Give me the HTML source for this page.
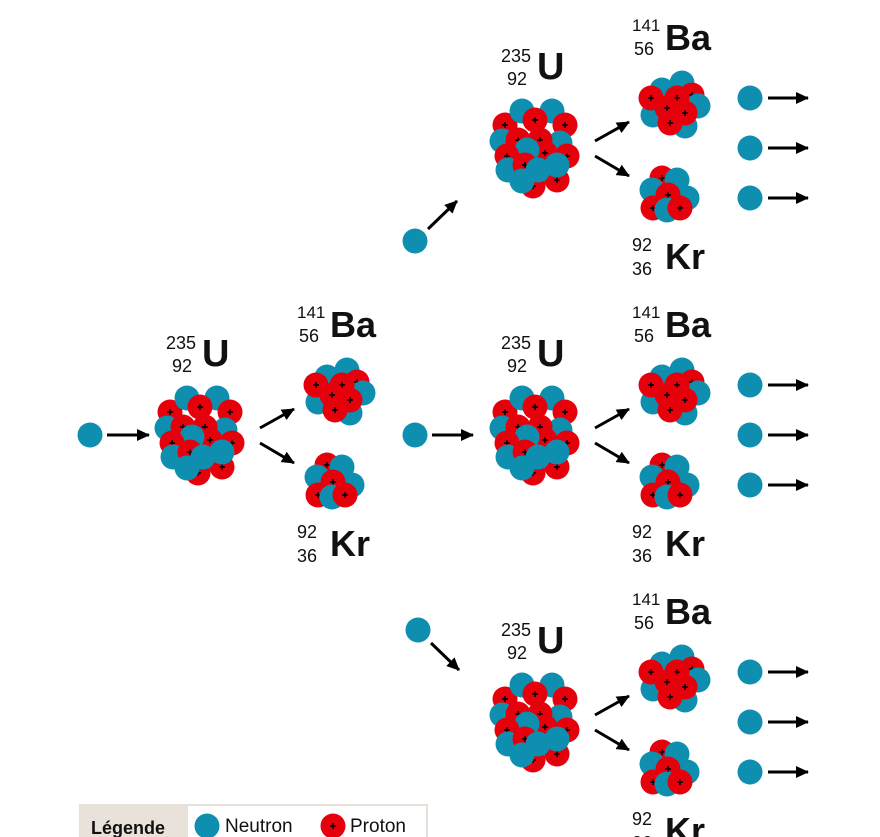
<!DOCTYPE html>
<html><head><meta charset="utf-8"><style>
html,body{margin:0;padding:0;background:#fff;}
svg{display:block;}
text{font-family:"Liberation Sans",sans-serif;fill:#111;}
</style></head><body>
<svg width="880" height="837" viewBox="0 0 880 837" xmlns="http://www.w3.org/2000/svg">
<defs>
<marker id="ah" markerWidth="13" markerHeight="12" refX="12" refY="6" orient="auto" markerUnits="userSpaceOnUse">
<path d="M0,0 L13,6 L0,12 z" fill="#000"/></marker>
<g id="n"><circle r="12.5" fill="#0f8fb0"/></g>
<g id="p"><circle r="12.5" fill="#e6000c"/><path d="M-3,0H3M0,-3V3" stroke="#000" stroke-width="1.4"/></g>
<g id="U">
<use href="#p" x="170" y="412"/><use href="#n" x="187" y="398"/><use href="#n" x="217" y="398"/>
<use href="#p" x="200" y="407"/><use href="#p" x="230" y="412"/>
<use href="#n" x="167" y="428"/><use href="#p" x="183" y="427"/><use href="#n" x="225" y="430"/><use href="#p" x="205" y="427"/>
<use href="#p" x="232" y="443"/><use href="#p" x="210" y="440"/><use href="#n" x="192" y="437"/><use href="#p" x="172" y="443"/>
<use href="#n" x="173" y="457"/><use href="#p" x="222" y="467"/><use href="#p" x="198" y="473"/><use href="#p" x="190" y="452"/>
<use href="#n" x="187" y="468"/><use href="#n" x="203" y="457"/><use href="#n" x="222" y="452"/>
</g>
<g id="Ba">
<use href="#n" x="327" y="377"/><use href="#n" x="347" y="370"/><use href="#p" x="357" y="382"/>
<use href="#n" x="363" y="393"/><use href="#n" x="318" y="402"/><use href="#n" x="350" y="413"/>
<use href="#p" x="316" y="385"/><use href="#p" x="342" y="385"/><use href="#p" x="332" y="395"/>
<use href="#p" x="335" y="410"/><use href="#p" x="350" y="400"/>
</g>
<g id="Kr">
<use href="#p" x="327" y="465"/><use href="#n" x="352" y="485"/><use href="#n" x="317" y="477"/>
<use href="#n" x="342" y="467"/><use href="#p" x="333" y="482"/>
<use href="#p" x="318" y="495"/><use href="#n" x="332" y="497"/><use href="#p" x="345" y="495"/>
</g>
<g id="blk">
<use href="#U"/>
<text x="166" y="349" font-size="18">235</text>
<text x="172" y="372" font-size="18">92</text>
<text x="202" y="366" font-size="38" font-weight="bold">U</text>
<line x1="260" y1="428" x2="294" y2="409" stroke="#000" stroke-width="3" marker-end="url(#ah)"/>
<line x1="260" y1="443" x2="294" y2="463" stroke="#000" stroke-width="3" marker-end="url(#ah)"/>
<use href="#Ba"/><use href="#Kr"/>
<text x="297" y="318" font-size="17">141</text>
<text x="299" y="342" font-size="18">56</text>
<text x="330" y="337" font-size="36" font-weight="bold">Ba</text>
<text x="297" y="538" font-size="18">92</text>
<text x="297" y="562" font-size="18">36</text>
<text x="330" y="556" font-size="36" font-weight="bold">Kr</text>
</g>
<g id="out">
<use href="#n" x="750" y="385"/><line x1="768" y1="385" x2="808" y2="385" stroke="#000" stroke-width="3" marker-end="url(#ah)"/>
<use href="#n" x="750" y="435"/><line x1="768" y1="435" x2="808" y2="435" stroke="#000" stroke-width="3" marker-end="url(#ah)"/>
<use href="#n" x="750" y="485"/><line x1="768" y1="485" x2="808" y2="485" stroke="#000" stroke-width="3" marker-end="url(#ah)"/>
</g>
</defs>

<use href="#n" x="90" y="435"/>
<line x1="107" y1="435" x2="149" y2="435" stroke="#000" stroke-width="3" marker-end="url(#ah)"/>
<use href="#blk"/>

<use href="#blk" transform="translate(335,-287)"/>
<use href="#blk" transform="translate(335,0)"/>
<use href="#blk" transform="translate(335,287)"/>
<use href="#out" transform="translate(0,-287)"/>
<use href="#out"/>
<use href="#out" transform="translate(0,287)"/>

<use href="#n" x="415" y="241"/>
<line x1="428" y1="229" x2="457" y2="201" stroke="#000" stroke-width="3" marker-end="url(#ah)"/>
<use href="#n" x="415" y="435"/>
<line x1="432" y1="435" x2="473" y2="435" stroke="#000" stroke-width="3" marker-end="url(#ah)"/>
<use href="#n" x="418" y="630"/>
<line x1="431" y1="643" x2="459" y2="670" stroke="#000" stroke-width="3" marker-end="url(#ah)"/>

<rect x="80" y="805" width="347" height="40" fill="#fff" stroke="#e6e0d8" stroke-width="2"/>
<rect x="80" y="805" width="108" height="40" fill="#e8e2da"/>
<text x="91" y="834" font-size="18" font-weight="bold">Légende</text>
<use href="#n" x="207" y="826"/>
<text x="225" y="832" font-size="19">Neutron</text>
<use href="#p" x="333" y="826"/>
<text x="350" y="832" font-size="19">Proton</text>
</svg>
</body></html>
